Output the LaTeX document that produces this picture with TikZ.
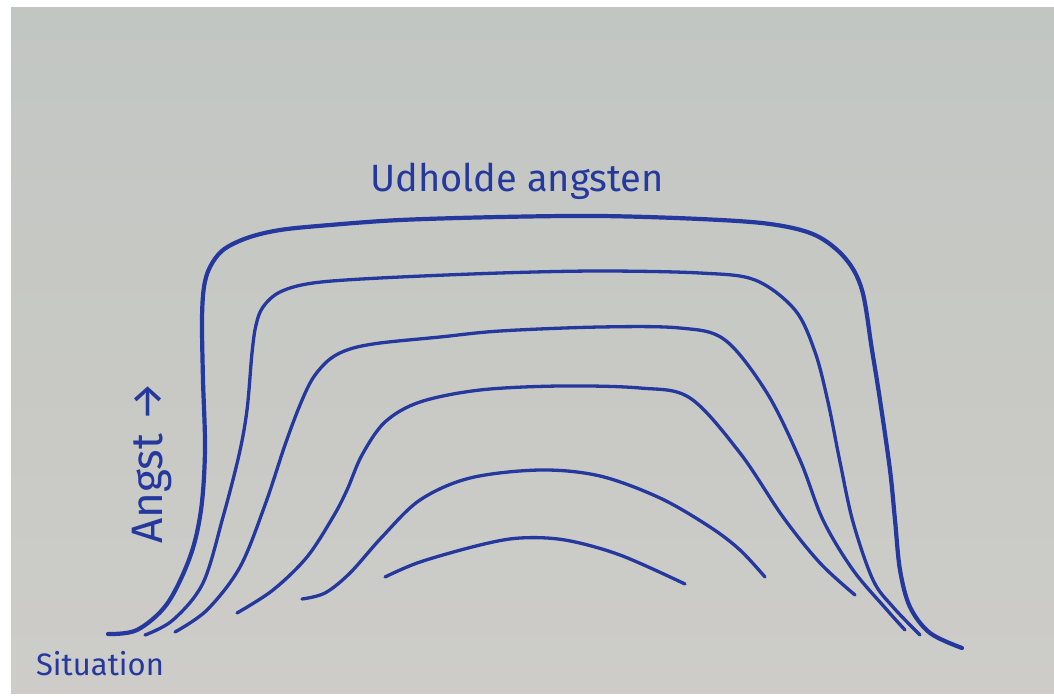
\documentclass[tikz,border=0pt]{standalone}
\usepackage{fontspec}
\setmainfont{Fira Sans}
\definecolor{ink}{RGB}{36,56,158}
\definecolor{papertop}{RGB}{194,198,194}
\definecolor{paperbot}{RGB}{205,204,200}
\begin{document}
\begin{tikzpicture}[x=1pt,y=-1pt,
  pen/.style={draw=ink,line width=4.2pt,line cap=round,line join=round},
  thinpen/.style={draw=ink,line width=3.3pt,line cap=round,line join=round},
  hand/.style={text=ink,inner sep=0pt}]
\useasboundingbox (0,0) rectangle (1054,696);
\fill[white] (0,0) rectangle (1054,696);
\shade[top color=papertop,bottom color=paperbot] (11,7) rectangle (1054,693);
% curves
\draw[pen] plot[smooth,tension=0.55] coordinates {(108,634) (137,630) (167,604) (190,557) (201,510) (205,450) (203,380) (202,320) (204,287) (210,267) (223,250) (247,238) (280,230) (330,225) (400,220) (500,217) (600,216) (700,219) (770,224) (815,235) (845,258) (862,290) (872,350) (880,400) (890,470) (895,520) (900,570) (910,607) (930,633) (962,648)};
\draw[thinpen] plot[smooth,tension=0.55] coordinates {(145,635) (173,620) (203,583) (223,517) (239,455) (247,410) (252,353) (256,325) (263,307) (280,292) (313,283) (380,278) (500,273) (600,271) (700,273) (755,280) (795,310) (815,352) (828,402) (840,462) (853,522) (873,580) (893,607) (920,635)};
\draw[thinpen] plot[smooth,tension=0.55] coordinates {(175,632) (207,610) (240,567) (265,505) (285,445) (300,405) (313,378) (330,359) (350,349) (380,343) (440,337) (500,331) (600,327) (680,328) (725,340) (767,393) (800,460) (823,520) (853,570) (887,610) (905,630)};
\draw[thinpen] plot[smooth,tension=0.55] coordinates {(237,613) (273,590) (307,557) (333,517) (347,490) (362,455) (385,422) (420,402) (480,390) (560,386) (640,388) (690,398) (740,453) (783,517) (820,563) (855,595)};
\draw[thinpen] plot[smooth,tension=0.55] coordinates {(302,599) (325,593) (350,573) (382,537) (420,500) (470,478) (540,470) (600,476) (660,498) (710,527) (740,550) (765,577)};
\draw[thinpen] plot[smooth,tension=0.55] coordinates {(385,577) (420,562) (480,545) (520,538) (565,540) (620,555) (685,584)};
% labels
\node[hand,font=\fontsize{38}{42}\selectfont] (title) at (517,181) {Udholde angsten};
\node[hand,font=\fontsize{44}{48}\selectfont,rotate=90] (angst) at (152,463) {Angst →};
\node[hand,font=\fontsize{31}{34}\selectfont] (situation) at (100,664) {Situation};
\end{tikzpicture}
\end{document}
